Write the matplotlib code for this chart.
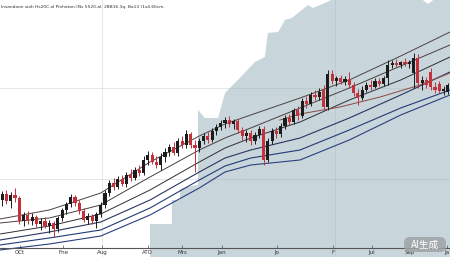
import matplotlib
matplotlib.use('Agg')
import matplotlib.pyplot as plt
from matplotlib.patches import FancyBboxPatch
import numpy as np

# candle data (index, open, high, low, close)
opens = [48, 54, 47, 53, 50, 27, 33, 27, 31, 24, 27, 22, 25, 19, 30, 38, 44, 51, 45, 37,
         28, 32, 27, 34, 43, 55, 65, 61, 69, 64, 73, 70, 78, 75, 88, 93, 86, 83, 91, 96,
         101, 95, 107, 103, 114, 103, 100, 107, 112, 108, 117, 121, 125, 128, 124, 127, 118, 112, 115, 107,
         113, 119, 88, 107, 117, 114, 122, 130, 126, 138, 132, 147, 144, 153, 151, 158, 141, 174, 167, 170,
         166, 169, 163, 155, 150, 158, 163, 161, 167, 164, 170, 183, 185, 183, 186, 184, 175, 190, 165, 168,
         176, 161, 164, 157, 156]
highs = [57, 58, 56, 60, 52, 36, 37, 35, 33, 30, 31, 28, 27, 32, 40, 46, 54, 53, 48, 40,
         35, 34, 36, 46, 58, 68, 70, 72, 73, 76, 79, 81, 83, 92, 97, 96, 92, 95, 100, 104,
         106, 110, 112, 118, 116, 108, 110, 115, 116, 120, 124, 128, 131, 132, 129, 129, 121, 118, 118, 116,
         122, 122, 110, 120, 121, 125, 133, 134, 140, 142, 150, 152, 156, 158, 160, 163, 178, 178, 172, 173,
         172, 176, 166, 159, 162, 166, 168, 170, 170, 172, 188, 188, 189, 187, 190, 188, 195, 194, 172, 171,
         180, 166, 167, 162, 165]
lows = [42, 44, 40, 46, 24, 22, 24, 23, 21, 18, 20, 15, 11, 16, 27, 34, 41, 42, 34, 26,
        24, 24, 20, 31, 40, 52, 58, 59, 62, 61, 67, 68, 72, 73, 83, 84, 80, 78, 86, 92,
        93, 92, 100, 100, 100, 76, 96, 104, 105, 106, 113, 118, 120, 121, 119, 115, 108, 106, 103, 104,
        110, 83, 86, 104, 110, 111, 119, 123, 124, 128, 130, 140, 142, 148, 148, 138, 138, 164, 162, 164,
        163, 160, 152, 143, 148, 156, 158, 160, 162, 162, 163, 180, 181, 180, 182, 180, 160, 160, 158, 160,
        158, 155, 155, 153, 154]
closes = [54, 47, 53, 50, 27, 33, 27, 31, 24, 27, 22, 25, 19, 30, 38, 44, 51, 45, 37, 28,
          32, 27, 34, 43, 55, 65, 61, 69, 64, 73, 70, 78, 75, 88, 93, 86, 83, 91, 96, 101,
          95, 107, 103, 114, 103, 100, 107, 112, 108, 117, 121, 125, 128, 124, 127, 118, 112, 115, 107, 113,
          119, 88, 107, 117, 114, 122, 130, 126, 138, 132, 147, 144, 153, 151, 156, 141, 174, 167, 170, 166,
          169, 163, 155, 150, 158, 163, 161, 167, 164, 170, 183, 185, 183, 186, 184, 186, 190, 165, 168, 163,
          161, 158, 157, 159, 163]

# moving average / channel lines
line_x = [-0.5, 11, 23, 34.5, 46, 52, 58, 69.5, 81, 93, 104.5]
ma_a = [29, 38, 55, 86, 112, 124, 133, 150, 168, 192, 216]
ma_b = [25, 30, 43, 71, 98, 110, 120, 140, 160, 182, 203]
ma_c = [14, 22, 34, 58, 86, 100, 110, 126, 148, 168, 191]
ma_d = [8, 16, 26, 48, 76, 90, 98, 110, 130, 153, 176]
ma_e = [3, 10, 18, 40, 68, 82, 90, 98, 118, 140, 158]
ma_f = [-2, 4, 12, 33, 60, 76, 83, 88, 108, 133, 153]
brown_x = [64.8, 69.5, 78.8, 88.2, 97.5, 104.5]
brown_y = [128, 134, 141, 151, 163, 175]

# shaded background series
area_x = [34.5, 39.6, 39.6, 41.5, 41.5, 45.2, 45.7, 45.7, 47.3, 50.4, 52, 55, 59, 61.3,
          62, 64.4, 66, 67.6, 71.4, 72.5, 75.3, 77.7, 97.5, 99.4, 101.2, 104.5]
area_top = [24, 24, 48, 48, 59, 63, 63, 138, 130, 130, 155, 168, 186, 191,
            215, 216, 228, 230, 243, 240, 245, 250, 250, 244, 250, 250]

tick_pos = [4.2, 14.2, 23.3, 34.0, 42.0, 51.3, 64.1, 77.2, 86.3, 95.2, 103.8]
tick_labels = ["OCt", "Fne", "Aug", "ATO", "Mrs", "Jan", "Jo", "F", "Jul", "Sep", "Ja"]

title = "Insandoon sioh Hs20C.ol Pinhaton.(Ns 5520.al. 2BB16.3q. Ba13 (1s4.66cm."

fig = plt.figure(figsize=(4.5, 2.57), dpi=100)
ax = fig.add_axes([0, 0, 1, 1])
ax.set_xlim(-0.5, 104.5)
ax.set_ylim(-9, 248)

ax.fill_between(area_x, -9, area_top, color='#c8d5da', lw=0, zorder=0)

for gx in [23.3, 77.7]:
    ax.axvline(gx, color='#9aa6ab', alpha=0.3, lw=0.6, zorder=1)
for gy in [160, 69]:
    ax.axhline(gy, color='#9aa6ab', alpha=0.3, lw=0.6, zorder=1)

ax.plot(line_x, ma_a, color='#4d4242', lw=0.7, zorder=2)
ax.plot(line_x, ma_b, color='#4a4040', lw=0.7, zorder=2)
ax.plot(line_x, ma_c, color='#2e2e35', lw=0.7, zorder=2)
ax.plot(line_x, ma_d, color='#2a3560', lw=0.8, zorder=2)
ax.plot(line_x, ma_e, color='#223a78', lw=0.8, zorder=2)
ax.plot(line_x, ma_f, color='#2a3f80', lw=0.8, zorder=2)
ax.plot(brown_x, brown_y, color='#8a4a45', lw=0.7, zorder=2)

idx = np.arange(len(opens))
o = np.array(opens)
c = np.array(closes)
colors = np.where(c >= o, '#1c1c1c', '#c4313a')
ax.vlines(idx, lows, highs, colors=colors, lw=0.7, zorder=3)
ax.bar(idx, np.maximum(np.abs(c - o), 1.5), bottom=np.minimum(o, c), width=0.72,
       color=colors, lw=0, zorder=4)

for s in ['left', 'right', 'top']:
    ax.spines[s].set_visible(False)
ax.spines['bottom'].set_position(('data', 0))
ax.spines['bottom'].set_color('#555555')
ax.spines['bottom'].set_linewidth(0.8)
ax.set_yticks([])
ax.set_xticks(tick_pos)
ax.set_xticklabels(tick_labels)
ax.tick_params(axis='x', direction='in', length=2, width=0.5, color='#555555',
               labelsize=4, labelcolor='#333333', pad=1.5)

fig.text(0.002, 0.982, title, fontsize=3.2, color='#333333', va='top', ha='left')

# watermark (display coords, origin bottom-left)
badge = FancyBboxPatch((404, 5), 42, 15, boxstyle='round,pad=0,rounding_size=6',
                       transform=None, facecolor='#9ea4a7', edgecolor='none', alpha=0.85, zorder=10)
fig.patches.append(badge)
fig.text(425 / 450, 12.5 / 257, "AI生成", fontsize=7, color='white', ha='center', va='center',
         family=['Noto Sans CJK SC', 'DejaVu Sans'], zorder=11)

fig.set_facecolor('white')
plt.savefig('out.png', dpi=100, facecolor=fig.get_facecolor())
